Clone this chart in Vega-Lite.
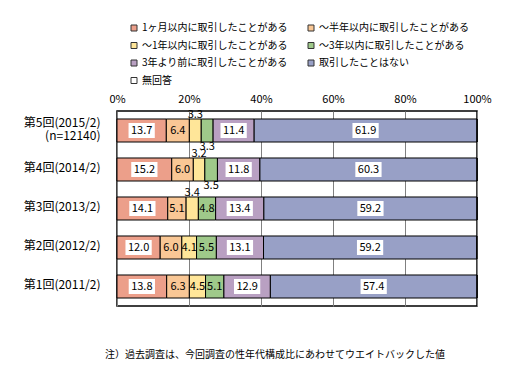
{
  "$schema": "https://vega.github.io/schema/vega-lite/v6.json",
  "autosize": {"type": "none"},
  "width": 360,
  "height": 195,
  "padding": {"left": 117, "top": 111, "right": 34, "bottom": 79},
  "background": "white",
  "config": {
    "font": "Noto Sans CJK JP",
    "view": {"stroke": "#000000", "strokeWidth": 1.5},
    "text": {"font": "Noto Sans CJK JP"}
  },
  "title": {
    "text": "注）過去調査は、今回調査の性年代構成比にあわせてウエイトバックした値",
    "orient": "bottom",
    "anchor": "start",
    "frame": "group",
    "offset": 44,
    "dx": -12,
    "fontSize": 10,
    "fontWeight": "normal",
    "font": "Noto Sans CJK JP",
    "color": "#000000"
  },
  "data": {
    "values": [
      {"round": "第5回(2015/2)", "cat": "1ヶ月以内に取引したことがある", "value": 13.7},
      {"round": "第5回(2015/2)", "cat": "〜半年以内に取引したことがある", "value": 6.4},
      {"round": "第5回(2015/2)", "cat": "〜1年以内に取引したことがある", "value": 3.3},
      {"round": "第5回(2015/2)", "cat": "〜3年以内に取引したことがある", "value": 3.3},
      {"round": "第5回(2015/2)", "cat": "3年より前に取引したことがある", "value": 11.4},
      {"round": "第5回(2015/2)", "cat": "取引したことはない", "value": 61.9},
      {"round": "第5回(2015/2)", "cat": "無回答", "value": 0},
      {"round": "第4回(2014/2)", "cat": "1ヶ月以内に取引したことがある", "value": 15.2},
      {"round": "第4回(2014/2)", "cat": "〜半年以内に取引したことがある", "value": 6.0},
      {"round": "第4回(2014/2)", "cat": "〜1年以内に取引したことがある", "value": 3.2},
      {"round": "第4回(2014/2)", "cat": "〜3年以内に取引したことがある", "value": 3.5},
      {"round": "第4回(2014/2)", "cat": "3年より前に取引したことがある", "value": 11.8},
      {"round": "第4回(2014/2)", "cat": "取引したことはない", "value": 60.3},
      {"round": "第4回(2014/2)", "cat": "無回答", "value": 0},
      {"round": "第3回(2013/2)", "cat": "1ヶ月以内に取引したことがある", "value": 14.1},
      {"round": "第3回(2013/2)", "cat": "〜半年以内に取引したことがある", "value": 5.1},
      {"round": "第3回(2013/2)", "cat": "〜1年以内に取引したことがある", "value": 3.4},
      {"round": "第3回(2013/2)", "cat": "〜3年以内に取引したことがある", "value": 4.8},
      {"round": "第3回(2013/2)", "cat": "3年より前に取引したことがある", "value": 13.4},
      {"round": "第3回(2013/2)", "cat": "取引したことはない", "value": 59.2},
      {"round": "第3回(2013/2)", "cat": "無回答", "value": 0},
      {"round": "第2回(2012/2)", "cat": "1ヶ月以内に取引したことがある", "value": 12.0},
      {"round": "第2回(2012/2)", "cat": "〜半年以内に取引したことがある", "value": 6.0},
      {"round": "第2回(2012/2)", "cat": "〜1年以内に取引したことがある", "value": 4.1},
      {"round": "第2回(2012/2)", "cat": "〜3年以内に取引したことがある", "value": 5.5},
      {"round": "第2回(2012/2)", "cat": "3年より前に取引したことがある", "value": 13.1},
      {"round": "第2回(2012/2)", "cat": "取引したことはない", "value": 59.2},
      {"round": "第2回(2012/2)", "cat": "無回答", "value": 0.1},
      {"round": "第1回(2011/2)", "cat": "1ヶ月以内に取引したことがある", "value": 13.8},
      {"round": "第1回(2011/2)", "cat": "〜半年以内に取引したことがある", "value": 6.3},
      {"round": "第1回(2011/2)", "cat": "〜1年以内に取引したことがある", "value": 4.5},
      {"round": "第1回(2011/2)", "cat": "〜3年以内に取引したことがある", "value": 5.1},
      {"round": "第1回(2011/2)", "cat": "3年より前に取引したことがある", "value": 12.9},
      {"round": "第1回(2011/2)", "cat": "取引したことはない", "value": 57.4},
      {"round": "第1回(2011/2)", "cat": "無回答", "value": 0}
    ]
  },
  "transform": [
    {"window": [{"op": "row_number", "as": "idx"}], "groupby": ["round"]},
    {"stack": "value", "groupby": ["round"], "sort": [{"field": "idx", "order": "ascending"}], "as": ["x0", "x1"]}
  ],
  "encoding": {
    "y": {
      "field": "round",
      "type": "nominal",
      "sort": ["第5回(2015/2)", "第4回(2014/2)", "第3回(2013/2)", "第2回(2012/2)", "第1回(2011/2)"],
      "scale": {"paddingInner": 0.41, "paddingOuter": 0.205},
      "axis": {
        "title": null,
        "ticks": false,
        "domain": false,
        "labelPadding": 17,
        "labelFontSize": 12,
        "labelColor": "#000000",
        "labelFont": "Noto Sans CJK JP",
        "labelLineHeight": 13,
        "labelOffset": {"condition": {"test": "datum.value == '第5回(2015/2)'", "value": -8}, "value": -2},
        "labelExpr": "datum.value == '第5回(2015/2)' ? ['第5回(2015/2)', '(n=12140)'] : datum.value"
      }
    }
  },
  "layer": [
    {
      "mark": {"type": "bar", "stroke": "#000000", "strokeWidth": 1},
      "encoding": {
        "x": {
          "field": "x0",
          "type": "quantitative",
          "scale": {"domain": [0, 100], "nice": false},
          "axis": {
            "orient": "top",
            "title": null,
            "values": [0, 20, 40, 60, 80, 100],
            "labelExpr": "datum.value + '%'",
            "ticks": false,
            "domain": false,
            "grid": true,
            "gridColor": "#808080",
            "gridWidth": 1,
            "gridOpacity": 1,
            "labelPadding": 7,
            "labelFontSize": 11,
            "labelColor": "#000000",
            "labelFont": "Noto Sans CJK JP",
            "labelFlush": false
          }
        },
        "x2": {"field": "x1"},
        "color": {
          "field": "cat",
          "type": "nominal",
          "sort": ["1ヶ月以内に取引したことがある", "〜半年以内に取引したことがある", "〜1年以内に取引したことがある", "〜3年以内に取引したことがある", "3年より前に取引したことがある", "取引したことはない", "無回答"],
          "scale": {
            "domain": ["1ヶ月以内に取引したことがある", "〜半年以内に取引したことがある", "〜1年以内に取引したことがある", "〜3年以内に取引したことがある", "3年より前に取引したことがある", "取引したことはない", "無回答"],
            "range": ["#EC9F8A", "#F9C795", "#FFE699", "#9FC98A", "#B9A0C2", "#98A0C6", "#FFFFFF"]
          },
          "legend": {
            "title": null,
            "orient": "none",
            "legendX": 12,
            "legendY": -88,
            "columns": 2,
            "columnPadding": 18,
            "rowPadding": 7.5,
            "values": ["1ヶ月以内に取引したことがある", "〜1年以内に取引したことがある", "3年より前に取引したことがある", "無回答", "〜半年以内に取引したことがある", "〜3年以内に取引したことがある", "取引したことはない"],
            "symbolType": "square",
            "symbolSize": 36,
            "symbolStrokeColor": "#333333",
            "symbolStrokeWidth": 1,
            "symbolOpacity": 1,
            "labelFontSize": 10,
            "labelFont": "Noto Sans CJK JP",
            "labelColor": "#000000",
            "labelOffset": 3,
            "labelLimit": 300
          }
        }
      }
    },
    {
      "transform": [
        {"filter": "datum.value >= 10"},
        {"fold": ["x0", "x1"], "as": ["edge", "xv"]},
        {"aggregate": [{"op": "mean", "field": "xv", "as": "mid"}], "groupby": ["round", "cat"]}
      ],
      "mark": {"type": "point", "shape": "M-1.75,-1H1.75V1H-1.75Z", "filled": true, "fill": "#FFFFFF", "opacity": 1, "strokeWidth": 0, "size": 225},
      "encoding": {
        "x": {"field": "mid", "type": "quantitative"}
      }
    },
    {
      "transform": [
        {"filter": "datum.value >= 4"},
        {"fold": ["x0", "x1"], "as": ["edge", "xv"]},
        {"aggregate": [{"op": "mean", "field": "xv", "as": "mid"}, {"op": "max", "field": "value", "as": "value"}], "groupby": ["round", "cat"]}
      ],
      "mark": {"type": "text", "fontSize": 11, "color": "#000000", "align": "center", "baseline": "middle"},
      "encoding": {
        "x": {"field": "mid", "type": "quantitative"},
        "text": {"field": "value", "type": "quantitative", "format": ".1f"}
      }
    },
    {
      "transform": [
        {"filter": "datum.cat == '〜1年以内に取引したことがある' && datum.value < 4"},
        {"fold": ["x0", "x1"], "as": ["edge", "xv"]},
        {"aggregate": [{"op": "mean", "field": "xv", "as": "mid"}, {"op": "max", "field": "value", "as": "value"}], "groupby": ["round", "cat"]}
      ],
      "mark": {"type": "text", "fontSize": 11, "color": "#000000", "align": "center", "baseline": "middle", "dy": -16},
      "encoding": {
        "x": {"field": "mid", "type": "quantitative"},
        "text": {"field": "value", "type": "quantitative", "format": ".1f"}
      }
    },
    {
      "transform": [
        {"filter": "datum.cat == '〜3年以内に取引したことがある' && datum.value < 4"},
        {"fold": ["x0", "x1"], "as": ["edge", "xv"]},
        {"aggregate": [{"op": "mean", "field": "xv", "as": "mid"}, {"op": "max", "field": "value", "as": "value"}], "groupby": ["round", "cat"]}
      ],
      "mark": {"type": "text", "fontSize": 11, "color": "#000000", "align": "center", "baseline": "middle", "dy": 16},
      "encoding": {
        "x": {"field": "mid", "type": "quantitative"},
        "text": {"field": "value", "type": "quantitative", "format": ".1f"}
      }
    }
  ]
}
